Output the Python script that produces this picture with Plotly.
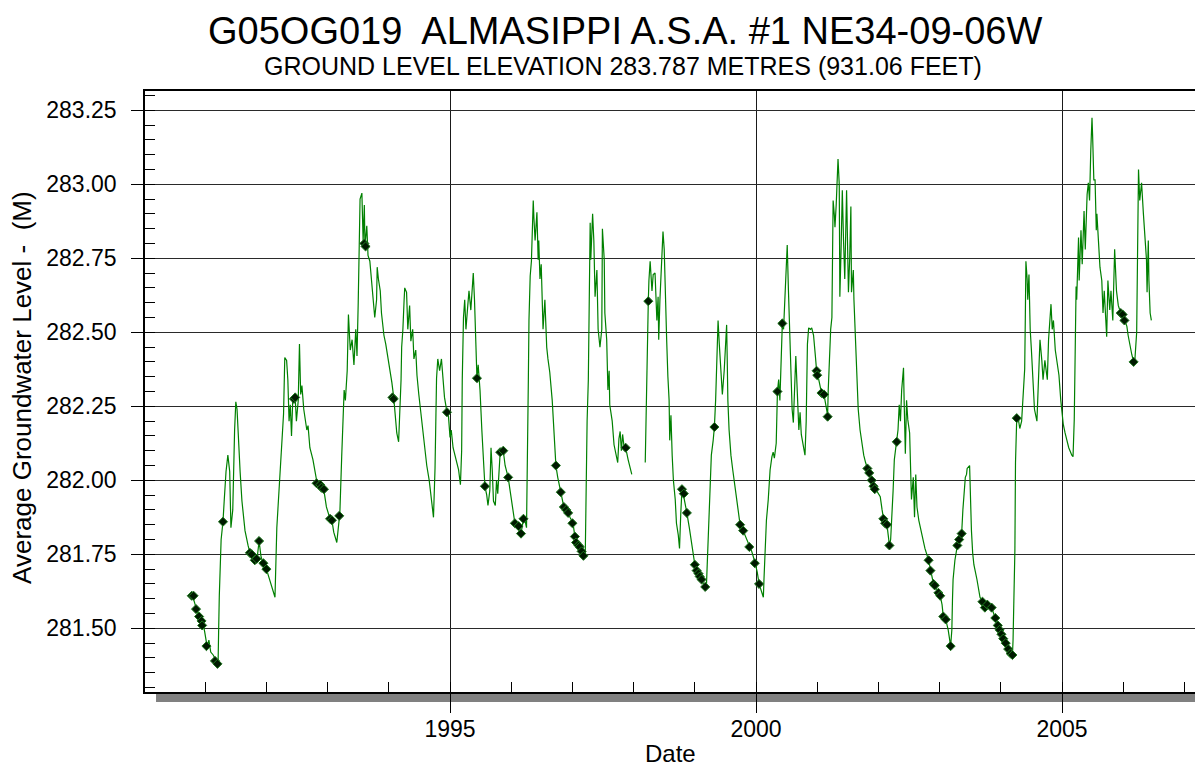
import plotly.graph_objects as go

# ---- Continuous logger record: decimal year / water level (m) ----
line_year = [
    1990.735, 1990.80, 1990.85, 1990.90, 1990.93, 1990.96, 1990.99, 1991.03, 1991.06, 1991.09,
    1991.13, 1991.18, 1991.21, 1991.22, 1991.23, 1991.26, 1991.29, 1991.31, 1991.34, 1991.37,
    1991.40, 1991.42, 1991.45, 1991.48, 1991.50, 1991.52, 1991.54, 1991.57, 1991.60, 1991.65,
    1991.70, 1991.73, 1991.76, 1991.81, 1991.85, 1991.88, 1991.91, 1991.94, 1992.00, 1992.06,
    1992.11, 1992.14, 1992.17, 1992.22, 1992.25, 1992.28, 1992.30, 1992.33, 1992.35, 1992.37,
    1992.39, 1992.41, 1992.43, 1992.47, 1992.49, 1992.52, 1992.54, 1992.56, 1992.58, 1992.61,
    1992.66, 1992.68, 1992.71, 1992.76, 1992.82, 1992.88, 1992.91, 1992.94, 1992.98, 1993.04,
    1993.07, 1993.10, 1993.15, 1993.19, 1993.20, 1993.23, 1993.25, 1993.27, 1993.29, 1993.32,
    1993.34, 1993.37, 1993.40, 1993.43, 1993.46, 1993.48, 1993.50, 1993.53, 1993.56, 1993.58,
    1993.60, 1993.61, 1993.64, 1993.66, 1993.69, 1993.72, 1993.74, 1993.77, 1993.80, 1993.81,
    1993.83, 1993.86, 1993.88, 1993.92, 1993.95, 1993.99, 1994.02, 1994.05, 1994.08, 1994.11,
    1994.13, 1994.16, 1994.18, 1994.20, 1994.21, 1994.23, 1994.25, 1994.26, 1994.29, 1994.31,
    1994.34, 1994.36, 1994.39, 1994.41, 1994.44, 1994.46, 1994.49, 1994.53, 1994.56, 1994.59,
    1994.62, 1994.66, 1994.69, 1994.73, 1994.755, 1994.78, 1994.80, 1994.83, 1994.86, 1994.89,
    1994.91, 1994.95, 1994.97, 1995.00, 1995.02, 1995.05, 1995.10, 1995.14, 1995.17, 1995.19,
    1995.20, 1995.22, 1995.24, 1995.26, 1995.29, 1995.31, 1995.34, 1995.36, 1995.38, 1995.40,
    1995.42, 1995.44, 1995.46, 1995.49, 1995.52, 1995.56, 1995.57, 1995.60, 1995.62, 1995.65,
    1995.67, 1995.69, 1995.71, 1995.74, 1995.76, 1995.78, 1995.82, 1995.87, 1995.90, 1995.95,
    1995.98, 1996.03, 1996.06, 1996.12, 1996.16, 1996.20, 1996.23, 1996.25, 1996.27, 1996.28,
    1996.29, 1996.31, 1996.33, 1996.34, 1996.36, 1996.37, 1996.39, 1996.42, 1996.44, 1996.45,
    1996.47, 1996.49, 1996.52, 1996.55, 1996.58, 1996.60, 1996.63, 1996.67, 1996.70, 1996.73,
    1996.76, 1996.81, 1996.86, 1996.90, 1996.93, 1996.96, 1997.01, 1997.04, 1997.06, 1997.10,
    1997.12, 1997.15, 1997.18, 1997.21, 1997.22, 1997.24, 1997.26, 1997.28, 1997.29, 1997.30,
    1997.33, 1997.35, 1997.37, 1997.40, 1997.42, 1997.45, 1997.48, 1997.49, 1997.52, 1997.53,
    1997.56, 1997.58, 1997.60, 1997.61, 1997.65, 1997.68, 1997.71, 1997.74, 1997.76, 1997.78,
    1997.80, 1997.82, 1997.84, 1997.87, 1997.91, 1997.94, 1997.97, None, 1998.19, 1998.20,
    1998.22, 1998.24, 1998.25, 1998.27, 1998.30, 1998.32, 1998.35, 1998.38, 1998.40, 1998.41,
    1998.43, 1998.45, 1998.48, 1998.50, 1998.51, 1998.54, 1998.56, 1998.58, 1998.59, 1998.61,
    1998.63, 1998.65, 1998.68, 1998.70, 1998.73, 1998.75, 1998.77, 1998.79, 1998.81, 1998.84,
    1998.87, 1998.91, 1998.94, 1998.97, 1999.00, 1999.03, 1999.06, 1999.08, 1999.11, 1999.14,
    1999.17, 1999.19, 1999.21, 1999.23, 1999.25, 1999.27, 1999.30, 1999.32, 1999.34, 1999.36,
    1999.38, 1999.40, 1999.43, 1999.45, 1999.48, 1999.50, 1999.52, 1999.53, 1999.54, 1999.56,
    1999.59, 1999.62, 1999.66, 1999.69, 1999.74, 1999.79, 1999.84, 1999.89, 1999.93, 1999.98,
    2000.02, 2000.05, 2000.08, 2000.12, 2000.13, 2000.15, 2000.17, 2000.20, 2000.23, 2000.26,
    2000.28, 2000.30, 2000.33, 2000.35, 2000.37, 2000.39, 2000.41, 2000.43, 2000.45, 2000.47,
    2000.49, 2000.51, 2000.53, 2000.55, 2000.57, 2000.59, 2000.61, 2000.63, 2000.65, 2000.68,
    2000.70, 2000.72, 2000.74, 2000.77, 2000.80, 2000.82, 2000.83, 2000.84, 2000.86, 2000.89,
    2000.91, 2000.94, 2000.97, 2000.99, 2001.02, 2001.05, 2001.07, 2001.11, 2001.14, 2001.17,
    2001.18, 2001.20, 2001.22, 2001.24, 2001.25, 2001.26, 2001.28, 2001.29, 2001.31, 2001.32,
    2001.34, 2001.36, 2001.37, 2001.39, 2001.41, 2001.43, 2001.45, 2001.48, 2001.50, 2001.51,
    2001.53, 2001.55, 2001.56, 2001.59, 2001.60, 2001.62, 2001.65, 2001.66, 2001.67, 2001.70,
    2001.73, 2001.76, 2001.79, 2001.82, 2001.85, 2001.89, 2001.92, 2001.94, 2001.98, 2002.03,
    2002.06, 2002.08, 2002.11, 2002.14, 2002.16, 2002.18, 2002.20, 2002.22, 2002.24, 2002.26,
    2002.30, 2002.32, 2002.34, 2002.36, 2002.38, 2002.41, 2002.42, 2002.44, 2002.46, 2002.48,
    2002.51, 2002.52, 2002.54, 2002.57, 2002.59, 2002.61, 2002.63, 2002.66, 2002.70, 2002.73,
    2002.76, 2002.82, 2002.85, 2002.90, 2002.92, 2002.98, 2003.01, 2003.04, 2003.06, 2003.10,
    2003.14, 2003.18, 2003.20, 2003.21, 2003.22, 2003.25, 2003.29, 2003.32, 2003.36, 2003.38,
    2003.40, 2003.42, 2003.44, 2003.45, 2003.49, 2003.50, 2003.52, 2003.54, 2003.56, 2003.61,
    2003.64, 2003.66, 2003.70, 2003.74, 2003.78, 2003.81, 2003.85, 2003.88, 2003.91, 2003.95,
    2003.98, 2004.01, 2004.04, 2004.08, 2004.12, 2004.16, 2004.19, 2004.20, 2004.21, 2004.23,
    2004.24, 2004.26, 2004.28, 2004.31, 2004.34, 2004.36, 2004.39, 2004.40, 2004.41, 2004.43,
    2004.44, 2004.46, 2004.48, 2004.50, 2004.53, 2004.55, 2004.59, 2004.61, 2004.64, 2004.67,
    2004.69, 2004.72, 2004.76, 2004.78, 2004.82, 2004.84, 2004.86, 2004.89, 2004.92, 2004.95,
    2004.98, 2005.00, 2005.02, 2005.05, 2005.08, 2005.11, 2005.16, 2005.18, 2005.20, 2005.21,
    2005.23, 2005.24, 2005.27, 2005.28, 2005.31, 2005.33, 2005.36, 2005.38, 2005.41, 2005.43,
    2005.45, 2005.47, 2005.49, 2005.50, 2005.52, 2005.54, 2005.56, 2005.57, 2005.60, 2005.62,
    2005.65, 2005.67, 2005.69, 2005.73, 2005.75, 2005.78, 2005.80, 2005.83, 2005.86, 2005.89,
    2005.92, 2005.96, 2005.99, 2006.02, 2006.06, 2006.08, 2006.11, 2006.14, 2006.17, 2006.19,
    2006.22, 2006.24, 2006.25, 2006.27, 2006.30, 2006.33, 2006.35, 2006.38, 2006.39, 2006.41,
    2006.42, 2006.44, 2006.46,
]

line_level = [
    281.61, 281.605, 281.57, 281.54, 281.51, 281.52, 281.49, 281.44, 281.46, 281.42,
    281.41, 281.39, 281.38, 281.50, 281.61, 281.80, 281.86, 281.93, 282.03, 282.085,
    282.03, 281.84, 281.90, 282.17, 282.265, 282.24, 282.14, 282.03, 281.93, 281.83,
    281.78, 281.755, 281.745, 281.73, 281.74, 281.795, 281.745, 281.72, 281.70, 281.66,
    281.62, 281.605, 281.84, 282.00, 282.11, 282.225, 282.415, 282.405, 282.34, 282.20,
    282.255, 282.15, 282.27, 282.28, 282.20, 282.27, 282.46, 282.29, 282.32, 282.24,
    282.17, 282.185, 282.11, 282.07, 282.00, 281.985, 281.97, 281.965, 281.91, 281.87,
    281.865, 281.825, 281.79, 281.88, 281.89, 282.08, 282.205, 282.305, 282.27, 282.37,
    282.56, 282.44, 282.475, 282.39, 282.51, 282.42, 282.60, 282.95, 282.97, 282.81,
    282.93, 282.79, 282.86, 282.76, 282.74, 282.66, 282.61, 282.55, 282.61, 282.72,
    282.68, 282.64, 282.565, 282.49, 282.46, 282.41, 282.37, 282.33, 282.28, 282.20,
    282.16, 282.13, 282.23, 282.34, 282.45, 282.51, 282.61, 282.65, 282.635, 282.51,
    282.59, 282.47, 282.51, 282.41, 282.44, 282.355, 282.29, 282.22, 282.17, 282.10,
    282.05, 282.00, 281.95, 281.875, 282.04, 282.345, 282.41, 282.37, 282.41, 282.345,
    282.28, 282.23, 282.23, 282.145, 282.17, 282.11, 282.07, 282.035, 281.985, 282.10,
    282.34, 282.55, 282.61, 282.51, 282.59, 282.64, 282.575, 282.66, 282.70, 282.61,
    282.47, 282.345, 282.39, 282.305, 282.17, 282.035, 281.98, 281.95, 281.915, 281.965,
    282.11, 282.035, 281.93, 281.915, 282.00, 281.955, 282.095, 282.10, 282.05, 282.01,
    281.97, 281.90, 281.855, 281.84, 281.82, 281.87, 281.86, 281.84, 282.10, 282.34,
    282.54, 282.69, 282.74, 282.81, 282.945, 282.89, 282.81, 282.905, 282.745, 282.81,
    282.68, 282.73, 282.51, 282.61, 282.45, 282.41, 282.365, 282.27, 282.17, 282.05,
    282.01, 281.96, 281.91, 281.90, 281.89, 281.875, 281.855, 281.81, 281.79, 281.78,
    281.775, 281.76, 281.745, 281.75, 281.935, 282.20, 282.34, 282.61, 282.87, 282.745,
    282.90, 282.81, 282.62, 282.71, 282.51, 282.45, 282.51, 282.85, 282.745, 282.565,
    282.475, 282.305, 282.37, 282.255, 282.20, 282.12, 282.085, 282.06, 282.14, 282.165,
    282.10, 282.155, 282.12, 282.11, 282.07, 282.04, 282.02, None, 282.06, 282.205,
    282.405, 282.605, 282.675, 282.74, 282.64, 282.695, 282.70, 282.54, 282.62, 282.475,
    282.61, 282.73, 282.84, 282.78, 282.675, 282.475, 282.35, 282.27, 282.135, 282.22,
    282.085, 282.00, 281.935, 281.855, 281.815, 281.77, 281.885, 281.97, 281.955, 281.915,
    281.89, 281.84, 281.80, 281.75, 281.715, 281.70, 281.69, 281.675, 281.665, 281.65,
    281.64, 281.645, 281.755, 281.90, 282.00, 282.085, 282.135, 282.18, 282.27, 282.44,
    282.54, 282.46, 282.37, 282.29, 282.37, 282.46, 282.525, 282.405, 282.27, 282.17,
    282.085, 282.035, 281.97, 281.915, 281.85, 281.83, 281.805, 281.775, 281.76, 281.725,
    281.69, 281.65, 281.63, 281.605, 281.665, 281.775, 281.865, 281.935, 282.035, 282.08,
    282.095, 282.075, 282.125, 282.30, 282.34, 282.27, 282.405, 282.53, 282.51, 282.61,
    282.71, 282.795, 282.64, 282.51, 282.39, 282.24, 282.195, 282.305, 282.42, 282.27,
    282.17, 282.23, 282.155, 282.12, 282.085, 282.20, 282.34, 282.46, 282.515, 282.51,
    282.515, 282.49, 282.42, 282.37, 282.345, 282.31, 282.295, 282.29, 282.255, 282.22,
    282.305, 282.43, 282.51, 282.55, 282.745, 282.945, 282.895, 282.855, 282.93, 283.015,
    283.085, 283.00, 282.62, 282.78, 282.98, 282.81, 282.68, 282.98, 282.72, 282.635,
    282.745, 282.925, 282.635, 282.71, 282.61, 282.51, 282.34, 282.27, 282.24, 282.17,
    282.12, 282.085, 282.06, 282.04, 282.025, 282.00, 281.98, 281.975, 281.96, 281.945,
    281.90, 281.875, 281.855, 281.85, 281.815, 281.78, 281.80, 281.865, 281.965, 282.07,
    282.13, 282.17, 282.255, 282.20, 282.305, 282.38, 282.27, 282.09, 282.27, 282.205,
    282.16, 282.06, 281.935, 282.01, 281.875, 282.02, 281.91, 281.865, 281.83, 281.80,
    281.77, 281.73, 281.695, 281.65, 281.645, 281.62, 281.61, 281.58, 281.54, 281.53,
    281.495, 281.44, 281.495, 281.595, 281.665, 281.73, 281.78, 281.80, 281.82, 281.90,
    281.965, 282.01, 282.02, 282.04, 282.05, 281.965, 281.83, 281.755, 281.715, 281.665,
    281.63, 281.605, 281.59, 281.57, 281.58, 281.57, 281.57, 281.55, 281.535, 281.51,
    281.495, 281.48, 281.465, 281.45, 281.43, 281.415, 281.41, 281.46, 281.56, 281.765,
    282.06, 282.21, 282.215, 282.175, 282.20, 282.27, 282.375, 282.54, 282.74, 282.68,
    282.61, 282.695, 282.51, 282.44, 282.34, 282.24, 282.20, 282.34, 282.475, 282.405,
    282.34, 282.405, 282.34, 282.475, 282.595, 282.51, 282.54, 282.44, 282.39, 282.355,
    282.27, 282.22, 282.19, 282.16, 282.135, 282.11, 282.085, 282.08, 282.205, 282.34,
    282.655, 282.61, 282.82, 282.675, 282.845, 282.73, 282.91, 282.78, 282.965, 283.005,
    282.945, 283.115, 283.225, 283.165, 283.015, 283.015, 282.845, 282.90, 282.78, 282.72,
    282.675, 282.565, 282.64, 282.485, 282.675, 282.575, 282.64, 282.54, 282.78, 282.64,
    282.59, 282.565, 282.56, 282.54, 282.52, 282.49, 282.45, 282.425, 282.40, 282.405,
    282.50, 282.845, 283.05, 282.945, 283.005, 282.90, 282.83, 282.745, 282.635, 282.81,
    282.675, 282.565, 282.54,
]

# ---- Manual (tape) measurements ----
manual_year = [
    1990.78, 1990.81, 1990.85, 1990.90, 1990.94, 1990.95, 1991.02, 1991.16, 1991.20, 1991.29,
    1991.73, 1991.76, 1991.81, 1991.84, 1991.88, 1991.95, 1992.00, 1992.45, 1992.47, 1992.82,
    1992.88, 1992.90, 1992.94, 1993.04, 1993.07, 1993.19, 1993.60, 1993.62, 1994.06, 1994.08,
    1994.95, 1995.44, 1995.57, 1995.82, 1995.87, 1995.95, 1996.06, 1996.12, 1996.16, 1996.20,
    1996.73, 1996.81, 1996.86, 1996.90, 1996.93, 1997.00, 1997.04, 1997.06, 1997.10, 1997.12,
    1997.15, 1997.18, 1997.87, 1998.24, 1998.79, 1998.82, 1998.87, 1999.00, 1999.03, 1999.06,
    1999.08, 1999.11, 1999.17, 1999.32, 1999.74, 1999.79, 1999.89, 1999.98, 2000.05, 2000.35,
    2000.43, 2000.99, 2001.00, 2001.07, 2001.11, 2001.17, 2001.82, 2001.85, 2001.89, 2001.92,
    2001.94, 2002.08, 2002.11, 2002.14, 2002.18, 2002.30, 2002.82, 2002.85, 2002.90, 2002.92,
    2002.98, 2003.01, 2003.06, 2003.10, 2003.18, 2003.29, 2003.32, 2003.36, 2003.70, 2003.74,
    2003.78, 2003.85, 2003.91, 2003.95, 2003.98, 2004.01, 2004.04, 2004.08, 2004.12, 2004.16,
    2004.19, 2004.26, 2005.96, 2005.99, 2006.02, 2006.17,
]

manual_level = [
    281.61, 281.61, 281.565, 281.54, 281.525, 281.51, 281.44, 281.39, 281.38, 281.86,
    281.755, 281.75, 281.73, 281.735, 281.795, 281.72, 281.70, 282.275, 282.28, 281.99,
    281.985, 281.975, 281.97, 281.87, 281.865, 281.88, 282.80, 282.79, 282.28, 282.275,
    282.23, 282.345, 281.98, 282.095, 282.10, 282.01, 281.855, 281.845, 281.82, 281.87,
    282.05, 281.96, 281.91, 281.90, 281.89, 281.855, 281.81, 281.79, 281.78, 281.775,
    281.76, 281.745, 282.11, 282.605, 281.97, 281.955, 281.89, 281.715, 281.695, 281.685,
    281.675, 281.665, 281.64, 282.18, 281.85, 281.83, 281.775, 281.72, 281.65, 282.30,
    282.53, 282.37, 282.355, 282.295, 282.29, 282.215, 282.04, 282.025, 282.00, 281.98,
    281.97, 281.87, 281.855, 281.85, 281.78, 282.13, 281.73, 281.695, 281.65, 281.645,
    281.62, 281.61, 281.54, 281.53, 281.44, 281.78, 281.80, 281.82, 281.59, 281.57,
    281.58, 281.57, 281.535, 281.51, 281.495, 281.48, 281.465, 281.45, 281.43, 281.415,
    281.41, 282.21, 282.565, 282.56, 282.54, 282.40,
]

# ---- Axis ticks ----
year_ticks = [1995, 2000, 2005]
level_ticks = [281.50, 281.75, 282.00, 282.25, 282.50, 282.75, 283.00, 283.25]
level_labels = [f"{v:.2f}" for v in level_ticks]

FONT = "Liberation Sans, Arial, Helvetica, sans-serif"

fig = go.Figure()

fig.add_trace(go.Scatter(
    x=line_year, y=line_level, mode="lines",
    line=dict(color="#008000", width=1.2),
    connectgaps=False, hoverinfo="skip", showlegend=False,
))

fig.add_trace(go.Scatter(
    x=manual_year, y=manual_level, mode="markers",
    marker=dict(symbol="diamond", size=7, color="#001a00",
                line=dict(color="#1f7a1f", width=1)),
    hoverinfo="skip", showlegend=False,
))

fig.update_layout(
    width=1195, height=769, autosize=False,
    margin=dict(l=145, r=0, t=91, b=77, pad=0),
    paper_bgcolor="white", plot_bgcolor="white",
    font=dict(family=FONT, color="black"),
    xaxis=dict(
        range=[1990.016, 2007.173],
        tickmode="array", tickvals=year_ticks, ticktext=[str(y) for y in year_ticks],
        ticks="outside", ticklen=19, tickwidth=1.3, tickcolor="black",
        tickfont=dict(size=23, family=FONT, color="black"),
        ticklabelstandoff=-3,
        showgrid=True, gridcolor="#1a1a1a", gridwidth=1.3,
        showline=True, linecolor="black", linewidth=1.5, mirror=True,
        zeroline=False,
        minor=dict(dtick=1, tick0=1990, ticks="inside", ticklen=10,
                   tickwidth=1.1, tickcolor="black", showgrid=False),
    ),
    yaxis=dict(
        range=[281.285, 283.315],
        tickmode="array", tickvals=level_ticks, ticktext=level_labels,
        ticks="outside", ticklen=12, tickwidth=1.3, tickcolor="black",
        tickfont=dict(size=23, family=FONT, color="black"),
        ticklabelstandoff=10,
        showgrid=True, gridcolor="#2a2a2a", gridwidth=1.3,
        showline=True, linecolor="black", linewidth=1.5, mirror=False,
        zeroline=False,
        minor=dict(dtick=0.05, tick0=281.5, ticks="inside", ticklen=10,
                   tickwidth=1.1, tickcolor="black", showgrid=False),
    ),
    shapes=[
        # grey base bar under the date axis
        dict(type="rect", xref="paper", yref="paper",
             x0=0.0105, x1=1.02, y0=-0.0166, y1=0.0,
             fillcolor="#808080", line=dict(width=0), layer="below"),
    ],
    annotations=[
        dict(text="G05OG019  ALMASIPPI A.S.A. #1 NE34-09-06W",
             xref="paper", yref="paper", x=0.4567, y=1.0995,
             xanchor="center", yanchor="middle", showarrow=False,
             font=dict(size=38, family=FONT, color="black")),
        dict(text="GROUND LEVEL ELEVATION 283.787 METRES (931.06 FEET)",
             xref="paper", yref="paper", x=0.4552, y=1.0424,
             xanchor="center", yanchor="middle", showarrow=False,
             font=dict(size=25, family=FONT, color="black")),
        dict(text="Average Groundwater Level -  (M)",
             xref="paper", yref="paper", x=-0.1167, y=0.5067,
             xanchor="center", yanchor="middle", textangle=-90, showarrow=False,
             font=dict(size=26, family=FONT, color="black")),
        dict(text="Date",
             xref="paper", yref="paper", x=0.5, y=-0.1278,
             xanchor="center", yanchor="bottom", showarrow=False,
             font=dict(size=24, family=FONT, color="black")),
    ],
)

fig.write_html("out.html")
